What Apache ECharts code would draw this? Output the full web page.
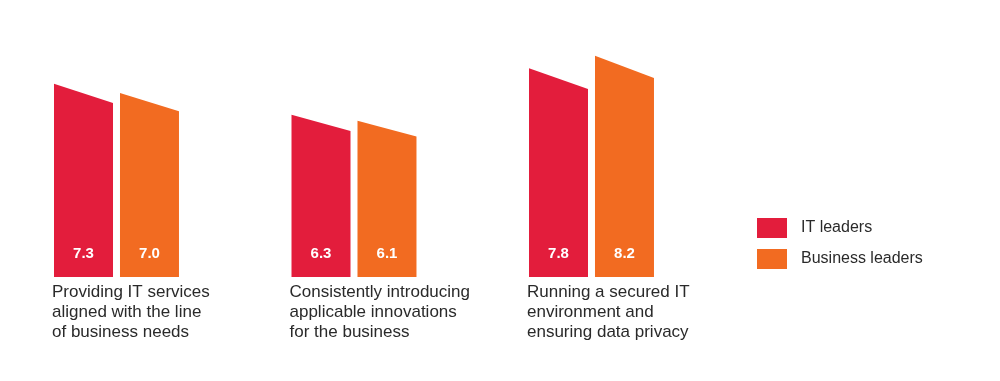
<!DOCTYPE html>
<html>
<head>
<meta charset="utf-8">
<script src="https://cdn.jsdelivr.net/npm/echarts@6/dist/echarts.min.js"></script>
<style>
html,body{margin:0;padding:0;background:#fff;}
#chart{width:1000px;height:381px;}
</style>
</head>
<body>
<div id="chart"></div>
<script>
var categories = [
  'Providing IT services\naligned with the line\nof business needs',
  'Consistently introducing\napplicable innovations\nfor the business',
  'Running a secured IT\nenvironment and\nensuring data privacy'
];
var itLeaders = [7.3, 6.3, 7.8];
var businessLeaders = [7.0, 6.1, 8.2];
var seriesNames = ['IT leaders', 'Business leaders'];

var Y_MIN = 1.06;
var FONT = "'Liberation Sans', Arial, Helvetica, sans-serif";

function makeRender(side) {
  return function (params, api) {
    var cat = api.value(0);
    var val = api.value(1);
    var top = api.coord([cat, val]);
    var base = api.coord([cat, Y_MIN]);
    var bandW = api.size([1, 0])[0];
    var barW = bandW * 0.2484;
    var halfGap = bandW * 0.0147;
    var cx = top[0] - bandW * 0.0095;
    var x0 = side === 0 ? cx - halfGap - barW : cx + halfGap;
    var x1 = x0 + barW;
    var yb = base[1];
    var yl = top[1];
    var yr = yb - 0.9 * (yb - yl);
    var children = [
      {
        type: 'polygon',
        shape: { points: [[x0, yb], [x0, yl], [x1, yr], [x1, yb]] },
        style: { fill: api.visual('color') }
      },
      {
        type: 'text',
        style: {
          x: (x0 + x1) / 2, y: yb - 23,
          text: val.toFixed(1),
          fill: '#fff',
          font: 'bold 15px ' + FONT,
          align: 'center', verticalAlign: 'middle'
        }
      }
    ];
    if (side === 0) {
      children.push({
        type: 'text',
        style: {
          x: x0 - 2, y: yb + 5,
          text: categories[params.dataIndex],
          fill: '#2a2a2a',
          font: '17px ' + FONT,
          lineHeight: 20,
          align: 'left', verticalAlign: 'top'
        }
      });
    }
    return { type: 'group', children: children };
  };
}

var chart = echarts.init(document.getElementById('chart'), null, { renderer: 'canvas' });
chart.setOption({
  animation: false,
  color: ['#e31d3c', '#f26b21'],
  grid: { left: 0, right: 287.5, top: 31, bottom: 104 },
  xAxis: {
    type: 'category',
    data: categories,
    show: false
  },
  yAxis: {
    type: 'value',
    min: Y_MIN,
    max: 9,
    show: false
  },
  legend: {
    orient: 'vertical',
    left: 757,
    top: 218,
    padding: 0,
    itemWidth: 30,
    itemHeight: 20,
    itemGap: 11,
    icon: 'rect',
    data: seriesNames,
    textStyle: {
      fontSize: 16,
      fontFamily: FONT,
      color: '#2a2a2a',
      padding: [0, 0, 0, 9]
    }
  },
  series: [
    {
      name: seriesNames[0],
      type: 'custom',
      renderItem: makeRender(0),
      encode: { x: 0, y: 1 },
      data: itLeaders.map(function (v, i) { return [i, v]; })
    },
    {
      name: seriesNames[1],
      type: 'custom',
      renderItem: makeRender(1),
      encode: { x: 0, y: 1 },
      data: businessLeaders.map(function (v, i) { return [i, v]; })
    }
  ]
});
</script>
</body>
</html>
